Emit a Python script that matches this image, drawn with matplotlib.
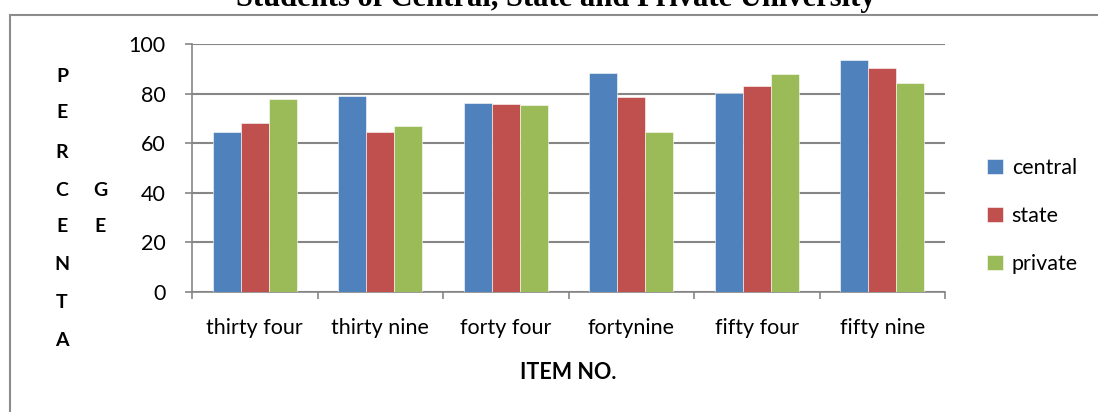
import matplotlib.pyplot as plt
import numpy as np
from matplotlib.patches import Rectangle

items = ["thirty four", "thirty nine", "forty four", "fortynine", "fifty four", "fifty nine"]
central = [64.5, 79.0, 76.4, 88.4, 80.3, 93.4]
state = [68.3, 64.4, 75.7, 78.5, 83.2, 90.4]
private = [78.0, 67.0, 75.5, 64.5, 88.0, 84.4]
series_names = ["central", "state", "private"]
colors = ["#4F81BD", "#C0504D", "#9BBB59"]

W, H = 1098, 412
fig = plt.figure(figsize=(W / 100, H / 100), dpi=100)
plt.rcParams["font.family"] = ["Lato", "DejaVu Sans"]


def fx(px):
    return px / W


def fy(py):
    return 1 - py / H


# outer chart border (clipped on right and bottom)
fig.patches.append(Rectangle((fx(10), fy(420)), fx(1100), fy(15) - fy(420),
                             transform=fig.transFigure, fill=False,
                             edgecolor="#8c8c8c", lw=1.5))

# title, clipped at the top of the image like the reference
fig.text(fx(556), fy(6), "Students of Central, State and Private University",
         ha="center", va="baseline", fontsize=22, fontweight="bold",
         family="Liberation Serif")

ax = fig.add_axes([fx(192), fy(292), fx(945) - fx(192), fy(44) - fy(292)])
x = np.arange(len(items))
bw = 1 / 4.5
for i, (vals, name, c) in enumerate(zip([central, state, private], series_names, colors)):
    ax.bar(x + (i - 1) * bw, vals, bw, color=c, label=name, zorder=3,
           edgecolor="white", linewidth=0.4)

ax.set_xlim(-0.5, len(items) - 0.5)
ax.set_ylim(0, 100)
ax.set_yticks(range(0, 101, 20))
ax.tick_params(axis="y", labelsize=15.5, length=5, color="#868686", width=1.2, pad=14)
ax.set_xticks(np.arange(-0.5, len(items), 1))
ax.set_xticklabels([])
ax.set_xticks(x, minor=True)
ax.set_xticklabels(items, minor=True, fontsize=15.5)
ax.tick_params(axis="x", which="major", length=5, color="#868686", width=1.2)
ax.tick_params(axis="x", which="minor", length=0, pad=19)
ax.grid(axis="y", color="#868686", lw=1.5, zorder=0)
for s in ["top", "right"]:
    ax.spines[s].set_visible(False)
for s in ["left", "bottom"]:
    ax.spines[s].set_color("#868686")
    ax.spines[s].set_linewidth(1.2)

ax.set_xlabel("ITEM NO.", fontsize=15.5, fontweight="bold", labelpad=17)

# vertical y label as separate letters
for ch, py in zip("PERCENTA", [77, 113, 152, 190, 227, 265, 303, 340]):
    fig.text(fx(62), fy(py), ch, ha="center", va="center", fontsize=14, fontweight="bold")
for ch, py in zip("GE", [190, 227]):
    fig.text(fx(100), fy(py), ch, ha="center", va="center", fontsize=14, fontweight="bold")

fig.legend(loc="center left", bbox_to_anchor=(fx(987), fy(216)), frameon=False,
           fontsize=15.5, handlelength=0.75, handleheight=0.75, handletextpad=0.4,
           labelspacing=1.3, borderpad=0, borderaxespad=0)

fig.savefig("out.png", dpi=100)
